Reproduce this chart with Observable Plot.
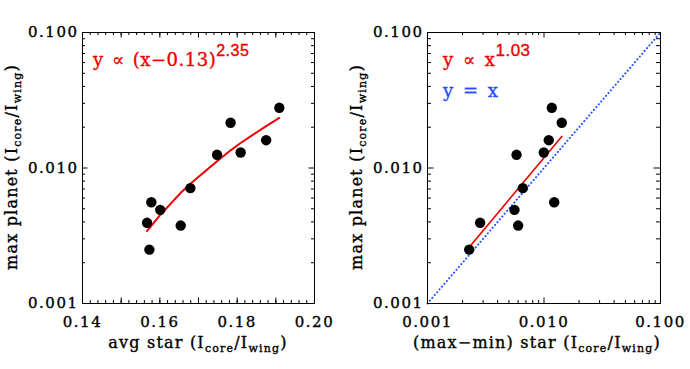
<!DOCTYPE html>
<html><head><meta charset="utf-8">
<script src="https://cdn.jsdelivr.net/npm/d3@7"></script>
<script src="https://cdn.jsdelivr.net/npm/@observablehq/plot@0.6"></script>
<style>
body{margin:0;background:#fff;}
#wrap{display:flex;width:690px;height:369px;overflow:hidden;}
#wrap svg{display:block;}
g[aria-label="x-axis tick label"] text, g[aria-label="y-axis tick label"] text{letter-spacing:1.5px;stroke:black;stroke-width:0.35px;}
text.anno{stroke-width:0.35px;}
</style></head><body><div id="wrap"></div>
<script>
// ---- data ----
const avgStar   = [0.1567,0.1573,0.1578,0.1601,0.1654,0.1679,0.1748,0.1783,0.1809,0.1875,0.1909];
const rangeStar = [0.00283,0.00228,0.01224,0.00558,0.00600,0.00658,0.00581,0.01421,0.00996,0.01099,0.01167];
const maxPlanet = [0.00394,0.00250,0.00559,0.00491,0.00376,0.00710,0.01251,0.02157,0.01301,0.01604,0.02781];
const fitLeftX  = [0.1567,0.1573,0.1578,0.1601,0.1654,0.1679,0.1748,0.1783,0.1809,0.1875,0.1909];
const fitLeftY  = [0.00343,0.00360,0.00374,0.00450,0.00656,0.00765,0.01120,0.01350,0.01530,0.02040,0.02340];
const fitRightX = [0.00228,0.01421];
const fitRightY = [0.00260,0.01710];
const identityX = [0.001,0.1];
const identityY = [0.001,0.1];
const leftXTickLabels = [0.14,0.16,0.18,0.20];
const logTickLabels = [0.001,0.01,0.1];

const RED = "#ee0000", BLUE = "#1f4dff";
const SERIF = "DejaVu Serif", SANS = "Liberation Sans";

const points = avgStar.map((a,i)=>({avg:a, range:rangeStar[i], max:maxPlanet[i]}));
const fitLeft = fitLeftX.map((x,i)=>({x, y:fitLeftY[i]}));
const fitRight = fitRightX.map((x,i)=>({x, y:fitRightY[i]}));
const ident = identityX.map((x,i)=>({x, y:identityY[i]}));

// tick positions
const leftXMajor = d3.range(14,21).map(d=>d/100);
const leftXMinor = d3.range(70,101).map(d=>d/500);
const logMinor = (lo,hi)=>{const out=[];for(let p=lo;p<hi;p++){for(let m=2;m<=9;m++)out.push(m*Math.pow(10,p));}return out;};
const yMinor = logMinor(-3,-1);
const rightXMinor = logMinor(-3,-1);

const W=345,H=369,mL=82,mR=31,mT=32,mB=66;
const PH=H-mT-mB, PW=W-mL-mR;
const MAJ=5.5, MIN=3;

function frameTicksX(major, minor){
  return [
    Plot.tickX(major,{x:d=>d,insetTop:PH-MAJ,stroke:"black"}),
    Plot.tickX(major,{x:d=>d,insetBottom:PH-MAJ,stroke:"black"}),
    Plot.tickX(minor,{x:d=>d,insetTop:PH-MIN,stroke:"black"}),
    Plot.tickX(minor,{x:d=>d,insetBottom:PH-MIN,stroke:"black"})
  ];
}
function frameTicksY(major, minor){
  return [
    Plot.tickY(major,{y:d=>d,insetRight:PW-MAJ,stroke:"black"}),
    Plot.tickY(major,{y:d=>d,insetLeft:PW-MAJ,stroke:"black"}),
    Plot.tickY(minor,{y:d=>d,insetRight:PW-MIN,stroke:"black"}),
    Plot.tickY(minor,{y:d=>d,insetLeft:PW-MIN,stroke:"black"})
  ];
}

function rich(svg, x, y, parts, {anchor="start", fill="black", size=16, family=SERIF, rotate=false, spacing=0, word=0}={}){
  const t = d3.select(svg).append("text").attr("class","anno")
    .attr("text-anchor",anchor).attr("fill",fill).attr("stroke",fill)
    .attr("font-family",family).attr("font-size",size)
    .style("letter-spacing",spacing+"px").style("word-spacing",word+"px");
  if(rotate) t.attr("transform",`translate(${x},${y}) rotate(-90)`);
  else t.attr("x",x).attr("y",y);
  let shift=0;
  for(const p of parts){
    const [str, kind, opt] = p;
    const ts = t.append("tspan").text(str);
    let target=0;
    if(kind==="sub"){ts.attr("font-size",opt?.size||11); target=opt?.dy??4;}
    if(kind==="sup"){ts.attr("font-size",opt?.size||16); target=opt?.dy??-10; if(opt?.family) ts.attr("font-family",opt.family);}
    if(target!==shift){ts.attr("dy",target-shift); shift=target;}
  }
  return t;
}

const common = {
  width:W, height:H, marginLeft:mL, marginRight:mR, marginTop:mT, marginBottom:mB,
  style:{fontFamily:SERIF, fontSize:"14px", color:"black", background:"white"}
};

// ---- left panel ----
const left = Plot.plot({
  ...common,
  x:{domain:[0.14,0.20]},
  y:{type:"log", domain:[0.001,0.1]},
  marks:[
    Plot.line(fitLeft,{x:"x",y:"y",stroke:RED,strokeWidth:2}),
    Plot.dot(points,{x:"avg",y:"max",r:5.2,fill:"black"}),
    Plot.frame({stroke:"black"}),
    ...frameTicksX(leftXMajor,leftXMinor),
    ...frameTicksY(logTickLabels,yMinor),
    Plot.axisX(leftXTickLabels,{tickSize:0,tickPadding:13,tickFormat:d3.format(".2f"),label:null,fontSize:15}),
    Plot.axisY(logTickLabels,{tickSize:0,tickPadding:4,tickFormat:d3.format(".3f"),label:null,fontSize:15})
  ]
});

// ---- right panel ----
const right = Plot.plot({
  ...common,
  marginRight:30, marginLeft:82,
  x:{type:"log", domain:[0.001,0.1]},
  y:{type:"log", domain:[0.001,0.1]},
  marks:[
    Plot.line(ident,{x:"x",y:"y",stroke:BLUE,strokeWidth:2,strokeDasharray:"0.1 3.6",strokeLinecap:"round"}),
    Plot.line(fitRight,{x:"x",y:"y",stroke:RED,strokeWidth:1.6}),
    Plot.dot(points,{x:"range",y:"max",r:5.2,fill:"black"}),
    Plot.frame({stroke:"black"}),
    ...frameTicksX(logTickLabels,rightXMinor),
    ...frameTicksY(logTickLabels,yMinor),
    Plot.axisX(logTickLabels,{tickSize:0,tickPadding:13,tickFormat:d3.format(".3f"),label:null,fontSize:15}),
    Plot.axisY(logTickLabels,{tickSize:0,tickPadding:4,tickFormat:d3.format(".3f"),label:null,fontSize:15})
  ]
});

const wrap = document.getElementById("wrap");
wrap.append(left, right);

// titles and annotations
const sub = (s)=>[s,"sub"];
const yTitle = [["max planet (I"],sub("core"),["/I"],sub("wing"),[")"]];
rich(left, 198, 348, [["avg star (I"],sub("core"),["/I"],sub("wing"),[")"]], {anchor:"middle", size:16, spacing:1.2});
rich(left, 17, 167, yTitle, {anchor:"middle", size:16, spacing:1.2, rotate:true});
rich(left, 93, 66, [["y ∝ (x−0.13)"],["2.35","sup",{size:16,dy:-10,family:SANS}]], {fill:RED, size:18, spacing:0.5, word:2});

rich(right, 192, 348, [["(max−min) star (I"],sub("core"),["/I"],sub("wing"),[")"]], {anchor:"middle", size:16, spacing:1.2});
rich(right, 17, 167, yTitle, {anchor:"middle", size:16, spacing:1.2, rotate:true});
rich(right, 98, 66, [["y ∝ x"],["1.03","sup",{size:17,dy:-10,family:SANS}]], {fill:RED, size:18, spacing:0.5, word:3});
rich(right, 98, 97, [["y = x"]], {fill:BLUE, size:18, spacing:0.5, word:3});
</script>
</body></html>
